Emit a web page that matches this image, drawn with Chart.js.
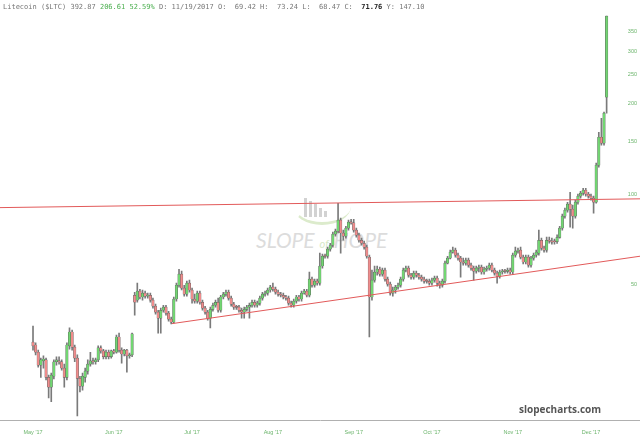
<!DOCTYPE html>
<html>
<head>
<meta charset="utf-8">
<script src="https://cdn.jsdelivr.net/npm/chart.js"></script>
<style>
  body { margin: 0; background: #fff; }
  #wrap { position: relative; width: 640px; height: 439px; overflow: hidden; }
  #chart { position: absolute; left: 0; top: 0; }
  #hdr { position: absolute; left: 3px; top: 3px; font: 7px "DejaVu Sans Mono", monospace; color: #777; white-space: pre; }
  #hdr .g { color: #4caf50; }
  #hdr b { color: #222; }
  #site { position: absolute; left: 519px; top: 402px; font: bold 10px "Open Sans", sans-serif; color: #555; }
  #logo { position: absolute; left: 0; top: 0; }
  .bar { position: absolute; width: 3px; background: #d2d2d2; }
  #arc { position: absolute; left: 293px; top: 188px; width: 56px; height: 34px; border-radius: 50%; border-bottom: 3px solid #dcebcc; border-left: 2px solid transparent; }
  #word { position: absolute; left: 256px; top: 227px; font: italic 21px Lato, sans-serif; color: #dcdcdc; white-space: pre; }
  #word span { font-size: 11px; color: #d6e8c6; }
</style>
</head>
<body>
<div id="wrap">
  <div id="logo">
    <div id="arc"></div>
    <div class="bar" style="left:304px;top:198px;height:19px"></div>
    <div class="bar" style="left:309px;top:201px;height:16px"></div>
    <div class="bar" style="left:314px;top:204px;height:13px"></div>
    <div class="bar" style="left:319px;top:208px;height:9px"></div>
    <div class="bar" style="left:324px;top:211px;height:6px"></div>
    <div id="word">SLOPE <span>of</span> HOPE</div>
  </div>
  <canvas id="chart" width="640" height="439"></canvas>
  <div id="hdr">Litecoin ($LTC) 392.87 <span class="g">206.61 52.59%</span> D: 11/19/2017 O:  69.42 H:  73.24 L:  68.47 C:  <b>71.76</b> Y: 147.10</div>
  <div id="site">slopecharts.com</div>
</div>
<script>
// daily candles, index 0 = May 1 2017
let opens = [
  32.1, 31.4, 29.7, 26.9, 27.8, 28.0, 24.5, 22.7, 24.7, 27.6,
  27.8, 27.6, 26.3, 24.5, 31.2, 34.7, 30.9, 28.4, 24.3, 22.9,
  24.5, 25.7, 27.1, 27.8, 27.6, 28.0, 30.7, 30.0, 28.7, 29.7,
  28.7, 30.0, 29.7, 33.4, 30.2, 29.3, 30.2, 28.9, 29.1, 46.0,
  44.3, 47.5, 45.4, 46.8, 45.7, 46.0, 44.3, 42.3, 40.4, 38.6,
  41.0, 42.0, 40.1, 38.3, 37.4, 44.7, 49.7, 54.1, 48.6, 46.4,
  50.5, 47.9, 44.7, 44.0, 46.8, 43.6, 41.7, 40.4, 38.6, 41.3,
  42.6, 43.6, 41.0, 45.4, 46.4, 47.1, 45.0, 43.0, 42.0, 42.0,
  41.0, 40.4, 41.3, 42.0, 42.6, 43.6, 42.6, 43.3, 45.0, 46.4,
  46.8, 47.9, 49.0, 48.2, 47.1, 46.4, 46.0, 45.4, 45.0, 43.3,
  42.6, 44.0, 45.4, 44.7, 46.8, 47.5, 46.0, 52.1, 49.7, 51.3,
  50.5, 57.6, 62.1, 62.1, 65.6, 67.6, 73.6, 75.3, 81.9, 74.2,
  72.5, 77.1, 80.7, 80.2, 75.9, 73.0, 70.2, 68.6, 66.6, 61.7,
  45.4, 51.7, 55.0, 56.2, 54.1, 55.8, 52.1, 50.1, 46.8, 47.9,
  49.0, 49.7, 52.1, 55.8, 56.7, 53.7, 52.9, 54.5, 53.7, 52.9,
  52.1, 51.3, 51.2, 50.5, 51.7, 52.5, 50.5, 49.7, 51.3, 58.9,
  61.2, 64.1, 65.1, 62.6, 61.2, 59.4, 58.9, 60.3, 58.0, 56.7,
  55.4, 56.7, 57.1, 55.0, 56.2, 56.7, 58.0, 55.8, 54.5, 53.3,
  55.0, 55.4, 55.3, 55.8, 55.0, 62.6, 64.6, 65.1, 61.7, 59.4,
  61.7, 58.0, 61.2, 62.6, 63.6, 70.2, 66.1, 65.1, 70.2, 69.7,
  69.6, 69.42, 71.8, 77.1, 84.5, 88.4, 92.6, 89.1, 84.5, 94.0,
  98.5, 100.8, 103.1, 100.0, 98.5, 97.0, 94.0, 124.9, 154.9, 147.9,
  210.5
];
let highs = [
  36.3, 31.9, 30.2, 28.4, 28.9, 28.4, 24.9, 25.3, 28.0, 28.7,
  28.7, 28.0, 27.1, 31.9, 35.8, 35.2, 31.4, 29.1, 24.7, 25.3,
  26.3, 28.0, 29.7, 28.4, 28.4, 31.2, 31.2, 30.4, 30.2, 30.2,
  30.2, 30.4, 33.9, 34.4, 30.7, 30.4, 30.4, 29.5, 34.4, 47.1,
  50.5, 48.2, 47.9, 47.5, 46.8, 46.8, 45.0, 43.0, 41.0, 41.7,
  42.6, 42.6, 40.7, 38.9, 45.4, 50.5, 56.2, 55.4, 49.7, 51.3,
  51.7, 48.6, 46.4, 47.5, 47.5, 44.3, 42.3, 41.0, 42.0, 43.3,
  44.3, 45.0, 46.0, 47.1, 47.9, 47.9, 45.7, 43.6, 42.6, 42.6,
  41.7, 42.0, 42.6, 43.3, 44.3, 44.3, 44.0, 45.7, 47.1, 47.5,
  48.6, 49.7, 50.5, 49.0, 47.9, 47.1, 46.8, 46.0, 45.7, 44.0,
  44.7, 46.0, 46.0, 47.5, 48.2, 48.2, 55.0, 52.9, 52.1, 52.1,
  63.6, 63.1, 63.1, 66.6, 68.6, 74.7, 76.5, 93.3, 83.2, 75.9,
  78.2, 81.9, 82.5, 82.5, 77.1, 74.2, 71.4, 69.7, 67.6, 62.6,
  55.8, 57.6, 57.6, 57.1, 56.7, 56.7, 52.9, 50.9, 49.0, 49.7,
  50.5, 52.9, 56.7, 57.6, 57.6, 54.5, 55.4, 55.4, 54.5, 53.7,
  52.9, 52.1, 52.1, 52.5, 53.3, 53.3, 51.3, 52.1, 59.8, 62.1,
  65.1, 66.6, 66.1, 63.6, 62.1, 61.2, 61.2, 61.2, 58.9, 57.6,
  57.6, 58.0, 58.0, 57.1, 57.6, 58.9, 58.9, 56.7, 55.4, 55.8,
  56.2, 56.2, 56.7, 56.7, 63.6, 66.6, 66.1, 66.6, 62.6, 62.6,
  62.6, 62.1, 63.6, 65.1, 75.9, 71.4, 67.1, 71.9, 71.9, 71.4,
  70.8, 73.24, 78.2, 85.8, 89.8, 94.0, 101.5, 91.9, 95.5, 100.0,
  102.3, 104.7, 104.7, 101.5, 100.0, 98.5, 126.9, 160.9, 179.2, 188.0,
  393.0
];
let lows = [
  30.2, 29.1, 26.5, 24.5, 26.3, 24.0, 20.9, 20.3, 24.2, 26.9,
  27.1, 25.9, 22.7, 24.0, 30.4, 30.2, 27.6, 18.2, 21.9, 22.2,
  23.6, 25.1, 26.7, 27.1, 27.1, 27.6, 29.5, 28.2, 28.2, 28.2,
  28.4, 29.3, 29.5, 29.7, 27.3, 28.9, 25.5, 28.4, 28.7, 39.5,
  43.6, 44.7, 44.3, 45.0, 45.0, 43.6, 41.7, 39.8, 34.4, 34.4,
  40.4, 39.5, 37.7, 36.9, 37.2, 44.0, 49.0, 47.9, 45.7, 45.7,
  47.1, 43.3, 43.3, 43.3, 43.0, 41.0, 39.8, 38.0, 35.8, 40.7,
  42.0, 40.4, 40.4, 44.7, 45.7, 44.3, 42.3, 41.3, 41.3, 40.4,
  38.6, 38.6, 40.7, 38.6, 42.0, 42.0, 42.0, 42.6, 44.3, 45.7,
  46.0, 47.1, 47.5, 46.4, 45.7, 45.4, 44.7, 44.3, 42.6, 42.0,
  42.0, 43.3, 44.0, 44.0, 46.4, 45.4, 45.4, 49.0, 49.0, 49.7,
  49.7, 56.7, 61.2, 61.2, 64.6, 66.6, 72.5, 74.2, 63.6, 70.2,
  71.4, 75.9, 79.4, 74.7, 71.9, 69.2, 67.6, 65.6, 61.2, 33.4,
  44.3, 50.9, 53.7, 53.3, 53.3, 51.3, 49.3, 46.0, 45.7, 46.8,
  48.2, 49.0, 51.3, 55.0, 52.9, 52.1, 52.1, 52.9, 52.1, 51.3,
  50.5, 50.5, 49.7, 49.7, 50.9, 49.3, 48.6, 49.0, 50.5, 58.5,
  60.8, 63.6, 61.7, 60.3, 52.9, 58.0, 58.0, 57.1, 55.8, 51.7,
  54.5, 55.0, 54.1, 54.1, 55.4, 55.8, 55.0, 53.7, 50.5, 52.5,
  54.1, 54.5, 54.5, 54.1, 54.1, 61.7, 63.6, 60.8, 58.5, 58.5,
  57.1, 57.1, 60.3, 61.7, 62.6, 65.1, 64.1, 64.1, 68.6, 68.1,
  68.1, 68.47, 71.4, 75.9, 83.2, 87.1, 77.6, 77.1, 83.2, 92.6,
  97.0, 99.2, 98.5, 97.0, 95.5, 86.4, 93.3, 123.0, 145.7, 145.7,
  186.3
];
let closes = [
  31.2, 29.7, 26.9, 28.0, 28.2, 24.5, 22.7, 24.9, 27.6, 28.0,
  27.6, 26.3, 24.5, 31.4, 34.7, 30.9, 28.4, 24.3, 22.9, 24.7,
  25.7, 27.1, 27.8, 27.6, 28.0, 30.7, 30.0, 28.7, 29.7, 28.7,
  30.0, 29.7, 33.4, 30.2, 29.3, 30.2, 28.9, 29.1, 34.2, 43.6,
  47.5, 45.4, 46.8, 45.7, 46.0, 44.3, 42.3, 40.4, 38.6, 41.0,
  42.0, 40.1, 38.3, 37.4, 44.7, 49.7, 54.1, 48.6, 46.4, 50.5,
  47.9, 44.7, 44.0, 46.8, 43.6, 41.7, 40.4, 38.6, 41.3, 42.6,
  43.6, 41.0, 45.4, 46.4, 47.1, 45.0, 43.0, 42.0, 41.9, 41.0,
  40.4, 41.3, 42.0, 42.6, 43.6, 42.6, 43.3, 45.0, 46.4, 46.8,
  47.9, 49.0, 48.2, 47.1, 46.4, 46.0, 45.4, 45.0, 43.3, 42.6,
  44.0, 45.4, 44.7, 46.8, 47.5, 46.0, 52.1, 49.7, 51.3, 50.5,
  57.6, 62.1, 62.0, 65.6, 67.6, 73.6, 75.3, 81.9, 74.2, 72.5,
  77.1, 80.7, 80.2, 75.9, 73.0, 70.2, 68.6, 66.6, 62.1, 45.4,
  51.7, 55.0, 56.2, 54.1, 55.8, 52.1, 50.1, 46.8, 47.9, 49.0,
  49.7, 52.1, 55.8, 56.7, 53.7, 52.9, 54.5, 53.7, 52.9, 52.1,
  51.3, 51.2, 50.5, 51.7, 52.5, 50.5, 49.7, 51.3, 58.9, 61.2,
  64.1, 65.1, 62.6, 61.2, 59.4, 58.9, 60.3, 58.0, 56.7, 55.4,
  56.7, 57.1, 55.0, 56.2, 56.7, 58.0, 55.8, 54.5, 53.3, 55.0,
  55.4, 55.3, 55.8, 55.0, 62.6, 64.6, 65.1, 61.7, 59.4, 61.7,
  58.0, 61.2, 62.6, 64.1, 70.2, 66.1, 65.1, 70.2, 69.7, 69.2,
  69.4, 71.76, 77.1, 84.5, 88.4, 92.6, 89.1, 84.5, 94.0, 98.5,
  100.8, 103.1, 100.0, 98.5, 97.0, 94.0, 124.9, 154.9, 147.9, 186.3,
  392.9
];

// month ticks (day index) and labels
let monthTicks = [0, 31, 61, 92, 123, 153, 184, 214];
let monthLabels = ["May '17", "Jun '17", "Jul '17", "Aug '17", "Sep '17", "Oct '17", "Nov '17", "Dec '17"];
let priceTicks = [50, 100, 150, 200, 250, 300, 350];

// trend lines drawn on the chart
let topLine = [{x: -12.66, y: 90.2}, {x: 232.8, y: 96.5}];
let bottomLine = [{x: 53.3, y: 37.0}, {x: 232.8, y: 62.1}];

let wickData = [];
let bodyData = [];
let bodyColors = [];
closes.forEach((c, i) => {
  wickData.push({x: i, y: [lows[i], highs[i]]});
  bodyData.push({x: i, y: [opens[i], c]});
  bodyColors.push(c >= opens[i] ? "#72d672" : "#f08c8c");
});

let tickColor = "#6cb56c";

new Chart(document.getElementById("chart"), {
  type: "bar",
  data: {
    datasets: [
      {
        type: "line", data: topLine, borderColor: "#e25a5a", borderWidth: 1,
        pointRadius: 0, order: 0
      },
      {
        type: "line", data: bottomLine, borderColor: "#e25a5a", borderWidth: 1,
        pointRadius: 0, order: 0
      },
      {
        data: bodyData, backgroundColor: bodyColors, borderColor: "#5a5a5a",
        borderWidth: 0.45, borderSkipped: false, barThickness: 2.5,
        minBarLength: 1, grouped: false, order: 1
      },
      {
        data: wickData, backgroundColor: "#7a7a7a", barThickness: 1,
        grouped: false, order: 2
      }
    ]
  },
  options: {
    responsive: false,
    animation: false,
    devicePixelRatio: 1,
    layout: { padding: 0 },
    plugins: { legend: { display: false }, tooltip: { enabled: false } },
    scales: {
      x: {
        type: "linear",
        offset: false,
        min: -12.66,
        max: 232.8,
        grid: { display: false, drawTicks: false },
        border: { display: true, color: "#b0b0b0", width: 1 },
        afterBuildTicks: s => { s.ticks = monthTicks.map(v => ({value: v})); },
        afterFit: s => { s.height = 19; },
        ticks: {
          autoSkip: false, maxRotation: 0, padding: 9,
          color: tickColor, font: { size: 5.5, family: "Liberation Sans" },
          callback: v => monthLabels[monthTicks.indexOf(v)]
        }
      },
      y: {
        type: "logarithmic",
        position: "right",
        min: 17.65,
        max: 443.4,
        grid: { display: false, drawTicks: false },
        border: { display: false },
        afterBuildTicks: s => { s.ticks = priceTicks.map(v => ({value: v})); },
        afterFit: s => { s.width = 0; },
        ticks: {
          autoSkip: false, mirror: true, crossAlign: "near", padding: -3,
          color: tickColor, font: { size: 5.5, family: "Liberation Sans" },
          callback: v => String(v)
        }
      }
    }
  }
});
</script>
</body>
</html>
